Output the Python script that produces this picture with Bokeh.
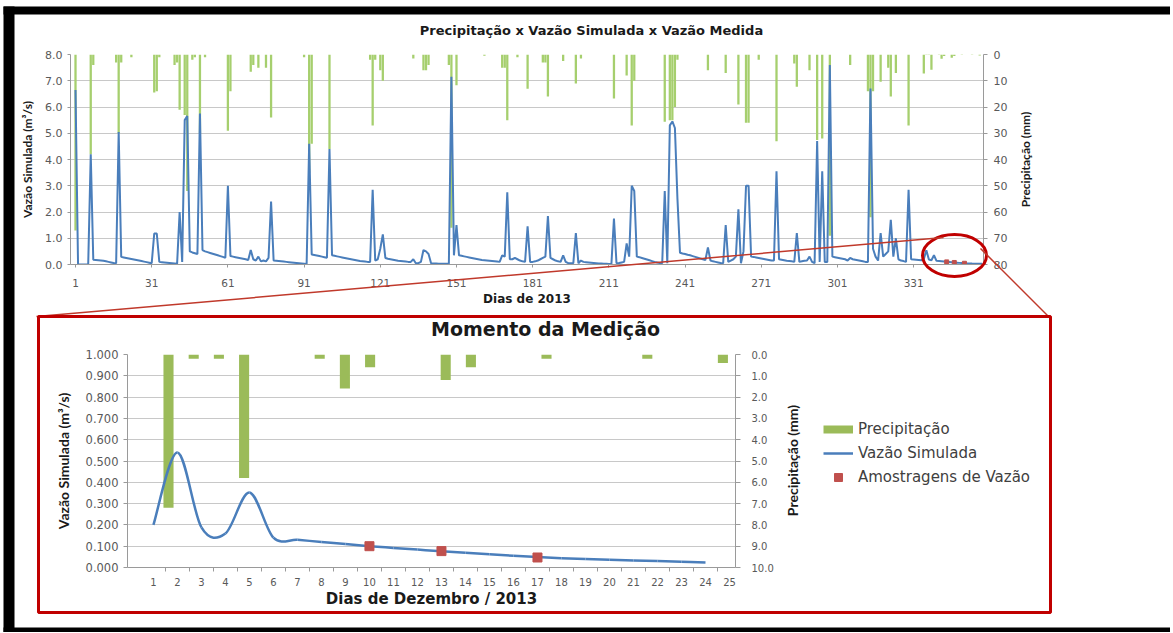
import math
import numpy as np
from bokeh.plotting import figure
from bokeh.models import (Range1d, LinearAxis, FixedTicker, NumeralTickFormatter,
                          Legend, LegendItem)
from bokeh.core.properties import value
from bokeh.embed import file_html
from bokeh.resources import INLINE

# ---------------- DATA ----------------
# Simulated flow (m3/s), one value per day of 2013
flow_jan = [6.65, 0.00, 0.00, 0.00, 0.00, 0.00, 4.20, 0.18, 0.17, 0.16,
            0.15, 0.14, 0.12, 0.10, 0.08, 0.06, 0.05, 5.05, 0.29, 0.27,
            0.25, 0.23, 0.21, 0.19, 0.17, 0.15, 0.13, 0.11, 0.09, 0.07,
            0.05]
flow_feb = [1.18, 1.18, 0.10, 0.09, 0.08, 0.07, 0.06, 0.05, 0.04, 0.03,
            2.00, 0.10, 5.50, 5.66, 0.50, 0.46, 0.43, 0.40, 5.75, 0.55,
            0.50, 0.47, 0.44, 0.41, 0.38, 0.35, 0.32, 0.29]
flow_mar = [0.26, 3.00, 0.32, 0.30, 0.28, 0.26, 0.24, 0.22, 0.20, 0.17,
            0.55, 0.20, 0.15, 0.30, 0.12, 0.15, 0.12, 0.25, 2.40, 0.15,
            0.14, 0.13, 0.12, 0.11, 0.10, 0.09, 0.08, 0.07, 0.06, 0.05,
            0.04]
flow_apr = [0.03, 0.02, 4.60, 0.38, 0.36, 0.34, 0.32, 0.30, 0.28, 0.26,
            4.40, 0.35, 0.33, 0.31, 0.29, 0.27, 0.25, 0.23, 0.21, 0.19,
            0.17, 0.15, 0.13, 0.12, 0.11, 0.10, 0.10, 2.85, 0.15, 0.20]
flow_may = [0.60, 1.15, 0.25, 0.22, 0.20, 0.18, 0.16, 0.14, 0.13, 0.12,
            0.11, 0.10, 0.10, 0.20, 0.05, 0.05, 0.10, 0.55, 0.50, 0.40,
            0.05, 0.04, 0.04, 0.03, 0.03, 0.03, 0.03, 0.03, 7.15, 0.35,
            1.50]
flow_jun = [0.35, 0.33, 0.31, 0.29, 0.27, 0.25, 0.23, 0.21, 0.19, 0.17,
            0.16, 0.15, 0.14, 0.13, 0.12, 0.11, 0.10, 0.35, 0.30, 2.75,
            0.20, 0.20, 0.25, 0.20, 0.15, 0.12, 0.10, 1.45, 0.10, 0.10]
flow_jul = [0.12, 0.15, 0.20, 0.25, 0.30, 1.85, 0.25, 0.20, 0.15, 0.12,
            0.10, 0.35, 0.10, 0.05, 0.05, 0.05, 1.20, 0.05, 0.15, 0.10,
            0.09, 0.08, 0.07, 0.06, 0.05, 0.04, 0.04, 0.03, 0.03, 0.02,
            0.02]
flow_aug = [1.75, 0.05, 0.06, 0.08, 0.10, 0.80, 0.30, 3.00, 2.80, 0.30,
            0.28, 0.25, 0.22, 0.19, 0.16, 0.13, 0.10, 0.08, 0.06, 0.05,
            2.80, 0.05, 5.30, 5.45, 5.20, 2.50, 0.45, 0.42, 0.40, 0.37,
            0.35]
flow_sep = [0.32, 0.29, 0.26, 0.23, 0.20, 0.17, 0.65, 0.15, 0.12, 0.10,
            0.08, 0.06, 0.05, 1.50, 0.10, 0.15, 0.20, 0.30, 2.10, 0.05,
            0.50, 3.00, 3.00, 0.30, 0.29, 0.27, 0.25, 0.23, 0.21, 0.19]
flow_oct = [0.17, 0.15, 0.15, 3.55, 0.20, 0.18, 0.16, 0.14, 0.13, 0.12,
            0.10, 1.20, 0.10, 0.12, 0.14, 0.15, 0.30, 0.10, 0.05, 4.70,
            0.10, 3.55, 0.10, 0.10, 7.60, 0.30, 0.28, 0.26, 0.24, 0.22,
            0.20]
flow_nov = [0.15, 0.25, 0.20, 0.18, 0.16, 0.14, 0.12, 0.10, 0.10, 6.70,
            0.60, 0.30, 0.15, 1.20, 0.30, 0.40, 0.50, 1.70, 0.30, 1.00,
            0.20, 0.15, 0.13, 0.10, 2.85, 0.20, 0.19, 0.18, 0.17, 0.16]

# December 2013 (detail chart)
dec_days = list(range(1, 25))
dec_flow = [0.200, 0.540, 0.188, 0.160, 0.352, 0.140, 0.130, 0.120, 0.110, 0.100,
            0.092, 0.084, 0.076, 0.069, 0.062, 0.055, 0.049, 0.044, 0.040, 0.036,
            0.033, 0.030, 0.027, 0.024]
dec_rain_days = [1, 2, 3, 4, 7, 8, 9, 12, 13, 16, 20, 23]
dec_rain_mm = [7.2, 0.2, 0.2, 5.8, 0.2, 1.6, 0.6, 1.2, 0.6, 0.2, 0.2, 0.4]
sample_days = [10, 13, 17]
sample_flow = [0.100, 0.077, 0.047]

# Daily rainfall (mm), January - November 2013
rain_days = [1, 7, 8, 17, 18, 19, 23, 32, 33, 34, 40, 41, 42, 44, 45, 47, 48, 50,
             52, 61, 62, 70, 71, 73, 76, 78, 91, 93, 94, 101, 117, 118, 119, 121,
             122, 134, 138, 139, 140, 148, 149, 151, 162, 169, 170, 171, 175, 179,
             185, 186, 187, 193, 198, 200, 213, 218, 220, 221, 233, 235, 236, 237,
             238, 250, 257, 262, 265, 266, 270, 277, 284, 285, 290, 293, 295, 298,
             306, 313, 314, 315, 318, 321, 322, 324, 329]
rain_mm = [67, 38, 4, 3, 30, 3, 1, 14.5, 14, 1, 4, 3, 21, 23, 52, 2, 1, 30,
           1, 29, 14, 6.6, 4, 5, 5, 24, 1, 45, 34, 36, 2, 27, 2, 6,
           10, 1.5, 6, 6, 4, 4, 66, 11.7, 0.5, 5, 5, 25, 1, 13,
           3, 3, 16, 2.5, 11, 1.5, 16.8, 8, 27, 10, 25.6, 25, 25, 20,
           2, 6, 7, 19, 26, 26, 2, 33, 3.4, 12.3, 6, 32.6, 32, 69,
           4, 14, 62, 14, 10.4, 5, 16, 7, 27]

NOV30 = 334  # day of year before 1 December 2013

year_ticks = [1, 31, 61, 91, 121, 151, 181, 211, 241, 271, 301, 331]
q_ticks_year = [0, 1, 2, 3, 4, 5, 6, 7, 8]
p_ticks_year = [0, 10, 20, 30, 40, 50, 60, 70, 80]
q_ticks_dec = [0.0, 0.1, 0.2, 0.3, 0.4, 0.5, 0.6, 0.7, 0.8, 0.9, 1.0]
p_ticks_dec = [0, 1, 2, 3, 4, 5, 6, 7, 8, 9, 10]
dec_ticks = list(range(1, 26))

title_year = "Precipitação x Vazão Simulada x Vazão Medida"
title_dec = "Momento da Medição"
ylabel_q = "Vazão Simulada (m³/s)"
ylabel_p = "Precipitação (mm)"
xlabel_year = "Dias de 2013"
xlabel_dec = "Dias de Dezembro / 2013"
legend_labels = ["Precipitação", "Vazão Simulada", "Amostragens de Vazão"]

# ---------------- STYLE ----------------
BLUE = "#4a7ebb"
GREEN_TOP = "#a6cf6e"
GREEN = "#9bbb59"
RED_MK = "#c0504d"
FRAME_RED = "#c00000"
LINK_RED = "#c0392b"
GRID = "#c8c8c8"
AXIS = "#9a9a9a"
TICK_TXT = "#595959"
TITLE_TXT = "#1a1a1a"


def style_axis(ax, label_px, title_px, title_font, tick_out=4, standoff=5,
               title_standoff=6):
    ax.axis_line_color = AXIS
    ax.major_tick_line_color = AXIS
    ax.major_tick_out = tick_out
    ax.major_tick_in = 0
    ax.minor_tick_line_color = None
    ax.major_label_text_color = TICK_TXT
    ax.major_label_text_font = "DejaVu Sans"
    ax.major_label_text_font_size = f"{label_px}px"
    ax.major_label_standoff = standoff
    ax.axis_label_text_font = title_font
    ax.axis_label_text_font_size = f"{title_px}px"
    ax.axis_label_text_font_style = "bold"
    ax.axis_label_text_color = TITLE_TXT
    ax.axis_label_standoff = title_standoff


def placed(left, top, extra=None):
    st = {"position": "absolute", "left": f"{left}px", "top": f"{top}px"}
    if extra:
        st.update(extra)
    return st


# ---------------- YEAR CHART ----------------
flow_year = (flow_jan + flow_feb + flow_mar + flow_apr + flow_may + flow_jun +
             flow_jul + flow_aug + flow_sep + flow_oct + flow_nov + dec_flow)
days_year = list(range(1, len(flow_year) + 1))
rain_days_year = rain_days + [NOV30 + d for d in dec_rain_days]
rain_mm_year = rain_mm + dec_rain_mm
sample_days_year = [NOV30 + d for d in sample_days]

top = figure(output_backend="svg", toolbar_location=None,
             frame_width=913, frame_height=210,
             min_border_left=70, min_border_right=182, min_border_top=54,
             min_border_bottom=44,
             x_range=Range1d(-0.97, 358.5), y_range=Range1d(0, 8),
             outline_line_color=None, styles=placed(0, 0))
top.extra_y_ranges = {"rain": Range1d(80, 0)}

top.vbar(x=rain_days_year, top=0, bottom=rain_mm_year, width=0.9,
         y_range_name="rain", fill_color=GREEN_TOP, line_color=None)
top.line(days_year, flow_year, line_color=BLUE, line_width=2)
top.scatter(sample_days_year, sample_flow, marker="square", size=4,
            color=RED_MK)

lax = top.left[0]
lax.ticker = FixedTicker(ticks=q_ticks_year)
lax.formatter = NumeralTickFormatter(format="0.0")
lax.axis_label = ylabel_q
style_axis(lax, 11, 12, "Lato", tick_out=3, standoff=5, title_standoff=7)

bax = top.below[0]
bax.ticker = FixedTicker(ticks=year_ticks)
bax.axis_label = xlabel_year
style_axis(bax, 10.5, 12, "DejaVu Sans", tick_out=3, standoff=11, title_standoff=2)

# right axis (its title is written upward in the overlay, as in the original)
rax = LinearAxis(y_range_name="rain", ticker=FixedTicker(ticks=p_ticks_year))
style_axis(rax, 11, 12, "Lato", tick_out=4, standoff=6, title_standoff=8)
top.add_layout(rax, "right")

top.xgrid.visible = False
top.ygrid.ticker = FixedTicker(ticks=q_ticks_year)
top.ygrid.grid_line_color = GRID

# ---------------- DECEMBER CHART ----------------
bot = figure(output_backend="svg", toolbar_location=None,
             frame_width=608, frame_height=213,
             min_border_left=87, min_border_right=313, min_border_top=46,
             min_border_bottom=45,
             x_range=Range1d(-0.08, 25.25), y_range=Range1d(0, 1.0),
             outline_line_color=None, styles=placed(40, 308))
bot.extra_y_ranges = {"rain": Range1d(10, 0)}
bot.extra_x_ranges = {"rain_x": Range1d(-0.627, 23.5)}

bot.vbar(x=dec_rain_days, top=0, bottom=dec_rain_mm, width=0.4,
         x_range_name="rain_x", y_range_name="rain",
         fill_color=GREEN, line_color=None)

# smoothed line (Catmull-Rom -> cubic Bezier, like a spreadsheet "smooth line")
px = np.array(dec_days, dtype=float)
py = np.array(dec_flow, dtype=float)
ppx = np.concatenate([[px[0]], px, [px[-1]]])
ppy = np.concatenate([[py[0]], py, [py[-1]]])
n = len(px)
cx0 = px[:-1] + (ppx[2:n + 1] - ppx[0:n - 1]) / 6.0
cy0 = py[:-1] + (ppy[2:n + 1] - ppy[0:n - 1]) / 6.0
cx1 = px[1:] - (ppx[3:n + 2] - ppx[1:n]) / 6.0
cy1 = py[1:] - (ppy[3:n + 2] - ppy[1:n]) / 6.0
bot.bezier(x0=px[:-1], y0=py[:-1], x1=px[1:], y1=py[1:],
           cx0=cx0, cy0=cy0, cx1=cx1, cy1=cy1,
           line_color=BLUE, line_width=2.5)
samples = bot.scatter(sample_days, sample_flow, marker="square", size=9,
                      color=RED_MK)

# legend proxies (a single point draws nothing; used for the legend glyph look)
proxy_rain = bot.line(x=[dec_days[0]], y=[dec_flow[0]], line_color=GREEN,
                      line_width=8)
proxy_flow = bot.line(x=[dec_days[0]], y=[dec_flow[0]], line_color=BLUE,
                      line_width=2.5)

blax = bot.left[0]
blax.ticker = FixedTicker(ticks=q_ticks_dec)
blax.formatter = NumeralTickFormatter(format="0.000")
blax.axis_label = ylabel_q
style_axis(blax, 11.5, 14, "Lato", tick_out=4, standoff=5, title_standoff=11)

bbax = bot.below[0]
bbax.ticker = FixedTicker(ticks=dec_ticks,
                          minor_ticks=[d + 0.5 for d in dec_ticks[:-1]])
bbax.axis_label = xlabel_dec
style_axis(bbax, 10, 15, "DejaVu Sans", tick_out=0, standoff=6, title_standoff=1)
bbax.minor_tick_line_color = AXIS
bbax.minor_tick_out = 4
bbax.minor_tick_in = 0

brax = LinearAxis(y_range_name="rain", ticker=FixedTicker(ticks=p_ticks_dec),
                  formatter=NumeralTickFormatter(format="0.0"))
style_axis(brax, 10, 14, "Lato", tick_out=5, standoff=11, title_standoff=10)
bot.add_layout(brax, "right")

bot.xgrid.visible = False
bot.ygrid.ticker = FixedTicker(ticks=q_ticks_dec)
bot.ygrid.grid_line_color = GRID

legend = Legend(items=[LegendItem(label=legend_labels[0], renderers=[proxy_rain]),
                       LegendItem(label=legend_labels[1], renderers=[proxy_flow]),
                       LegendItem(label=legend_labels[2], renderers=[samples])],
                location=(-198, 80), orientation="vertical",
                glyph_width=30, glyph_height=20, spacing=4, padding=10,
                label_standoff=5, label_text_font="DejaVu Sans",
                label_text_font_size="15px", label_text_color="#404040",
                background_fill_alpha=0, border_line_color=None)
bot.add_layout(legend, "right")

# ---------------- OVERLAY (frame, zoom marks, titles) ----------------
OW, OH = 1170, 632
ov = figure(output_backend="svg", toolbar_location=None, width=OW, height=OH,
            x_range=Range1d(0, OW), y_range=Range1d(OH, 0),
            x_axis_location=None, y_axis_location=None, min_border=0,
            outline_line_color=None, background_fill_alpha=0, border_fill_alpha=0,
            styles=placed(0, 0, {"pointer-events": "none", "z-index": "10"}))
ov.grid.visible = False

# black screenshot frame
ov.quad(left=[3, 3, 3], right=[14, OW, OW], top=[6, 6, 627],
        bottom=[OH, 14, OH], fill_color="black", line_color=None)
# zoom circle on the annual chart
ov.ellipse(x=[954], y=[255], width=64, height=42, fill_color=None,
           line_color=FRAME_RED, line_width=3)
# connecting lines
ov.segment(x0=[36, 980], y0=[316, 248], x1=[943, 1048], y1=[237, 316],
           line_color=LINK_RED, line_width=1.5)
# box of the detail chart
ov.quad(left=[38], right=[1050], top=[316], bottom=[612], fill_color=None,
        line_color=FRAME_RED, line_width=3)
# chart titles
ov.text(x=[591], y=[30], text=[title_year], text_align="center",
        text_baseline="middle", text_font=value("DejaVu Sans"),
        text_font_style="bold", text_font_size="13px", text_color=TITLE_TXT)
ov.text(x=[545], y=[328], text=[title_dec], text_align="center",
        text_baseline="middle", text_font=value("DejaVu Sans"),
        text_font_style="bold", text_font_size="19px", text_color=TITLE_TXT)
# right-hand axis titles, read from bottom to top
ov.text(x=[1025], y=[159], text=[ylabel_p], angle=math.pi / 2,
        text_align="center", text_baseline="middle", text_font=value("Lato"),
        text_font_style="bold", text_font_size="12px", text_color=TITLE_TXT)
ov.text(x=[792], y=[460], text=[ylabel_p], angle=math.pi / 2,
        text_align="center", text_baseline="middle", text_font=value("Lato"),
        text_font_style="bold", text_font_size="14px", text_color=TITLE_TXT)

open("out.html", "w").write(file_html([top, bot, ov], INLINE))
